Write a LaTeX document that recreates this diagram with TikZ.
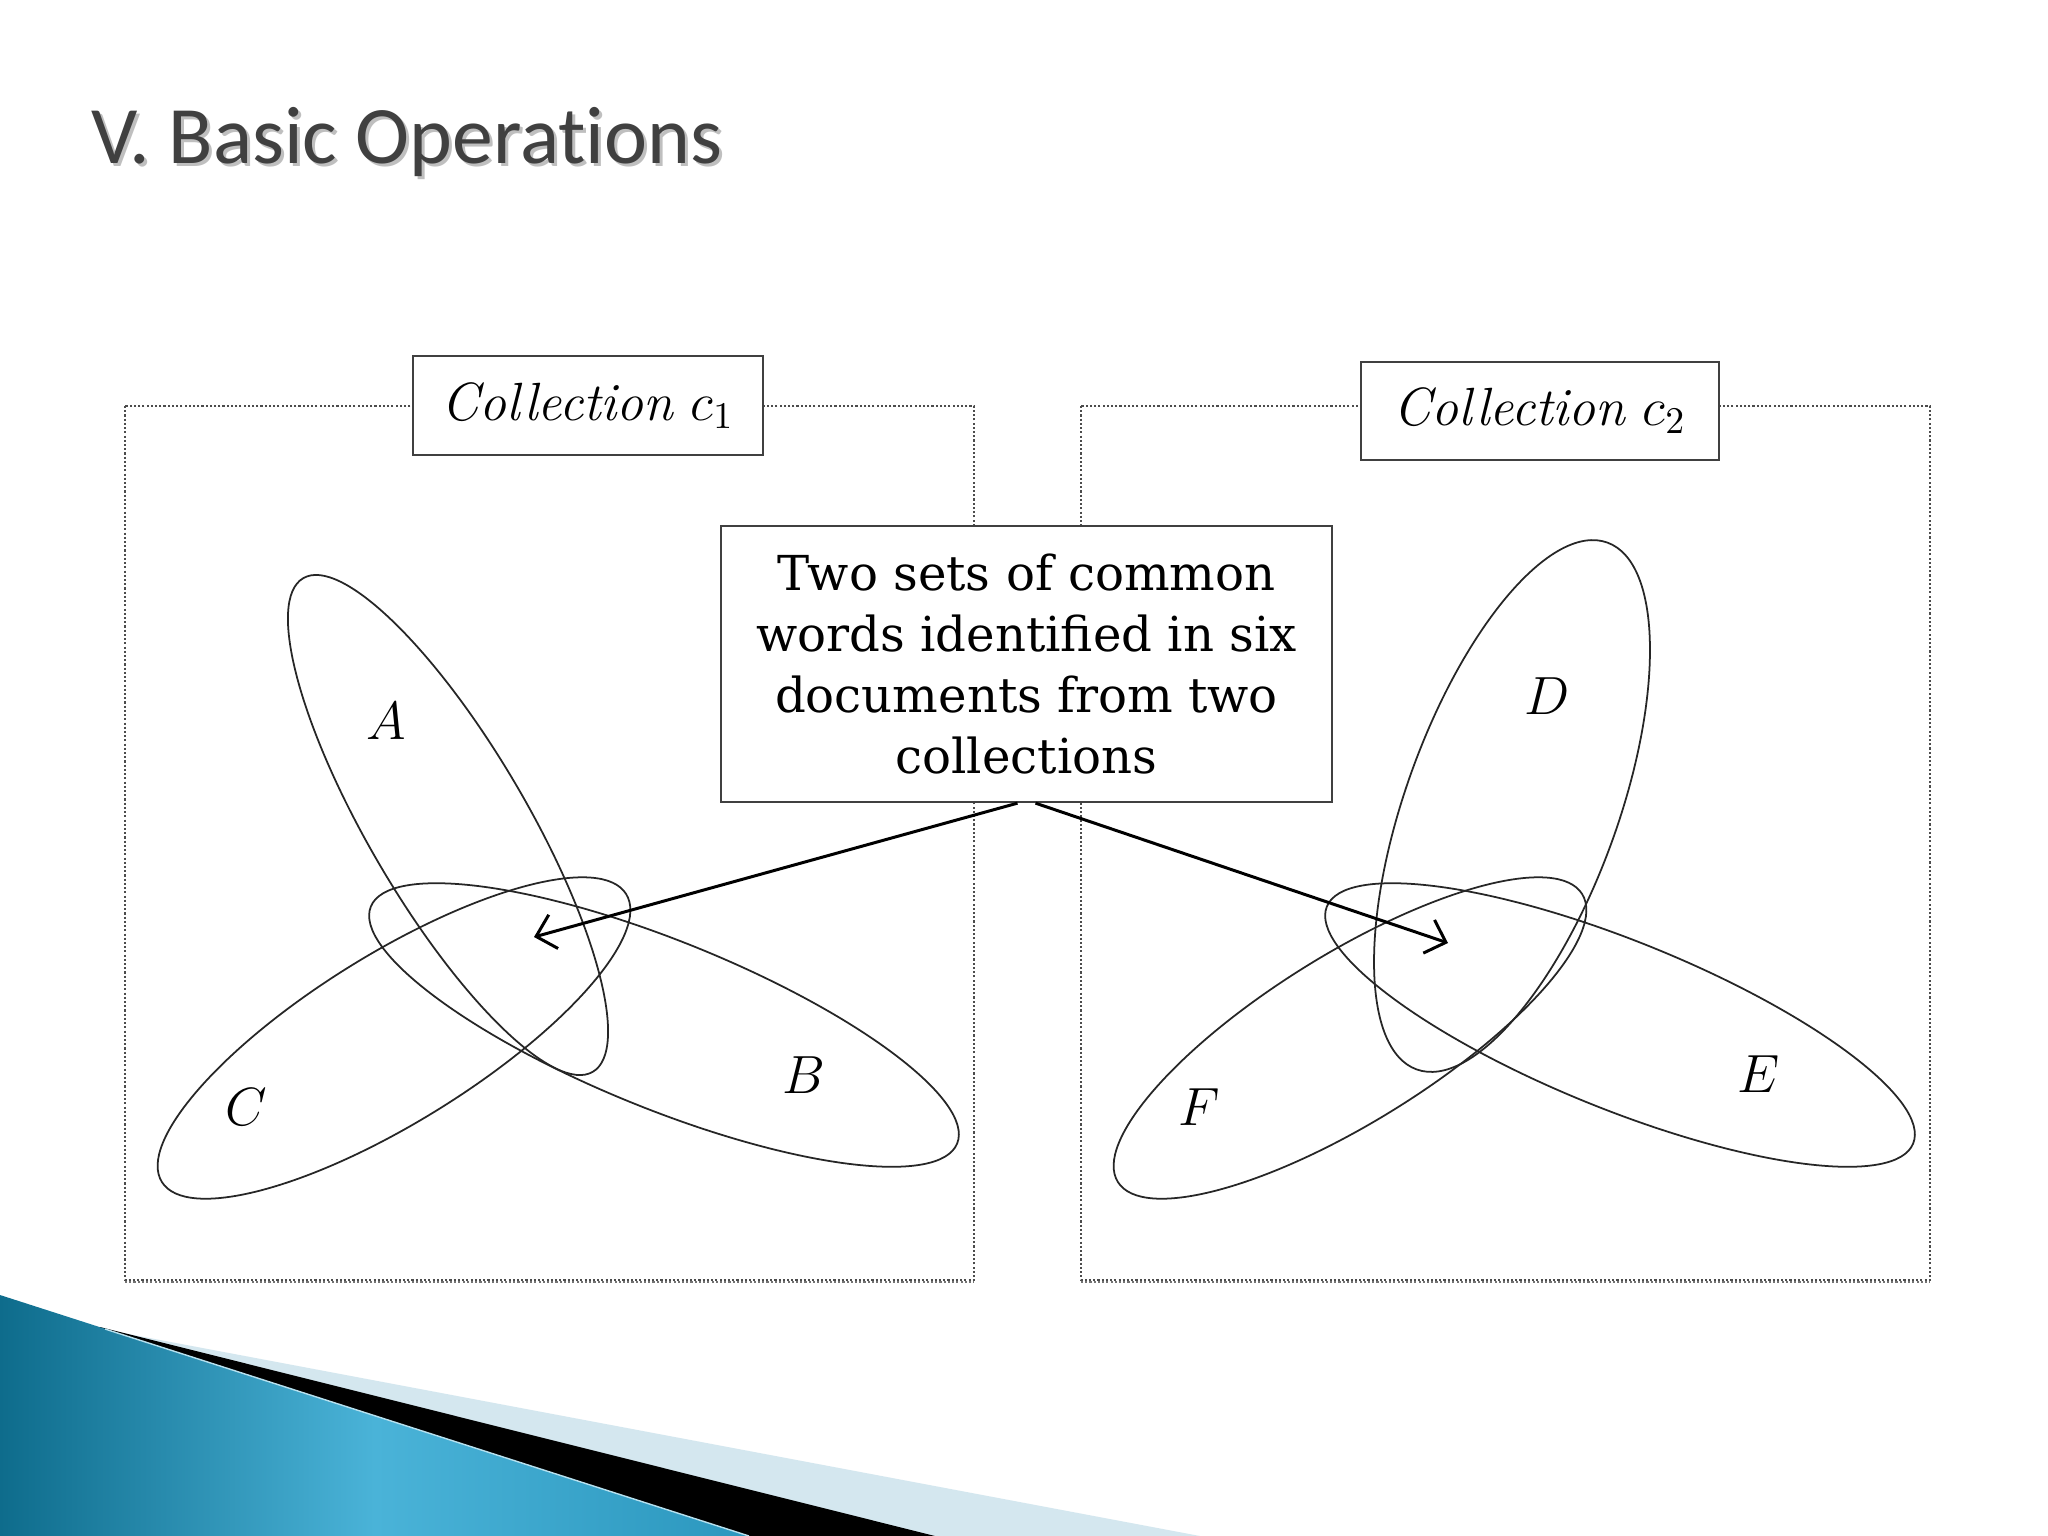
\RequirePackage{fix-cm}
\documentclass[tikz,border=0pt]{standalone}
\usepackage{fontspec}
\newfontfamily\titlefont{Carlito}[Ligatures=NoCommon]
\newfontfamily\msgfont{DejaVu Serif}
\usetikzlibrary{arrows.meta,calc}
\definecolor{titlegray}{HTML}{404040}
\definecolor{bluedark}{HTML}{0E6C8C}
\definecolor{bluemid}{HTML}{4AB3D8}
\definecolor{blueedge}{HTML}{2B97BE}
\definecolor{lightband}{HTML}{D4E7EF}
\begin{document}
\begin{tikzpicture}[x=0.01cm,y=-0.01cm,
  setline/.style={draw=black!85, line width=0.5pt},
  frame/.style={draw=black!70, line width=0.4pt, dash pattern=on 0.6pt off 0.6pt},
  labelbox/.style={draw=black!75, line width=0.6pt, fill=white, inner sep=0pt, font=\fontsize{15.3}{17.4}\selectfont},
  setlabel/.style={font=\fontsize{15.3}{17.4}\selectfont, inner sep=0pt},
  titletext/.style={anchor=base west, inner sep=0pt, font=\titlefont\fontsize{23.2}{27}\selectfont},
  pointer/.style={draw=black, line width=0.85pt, -{Straight Barb[length=1.8mm,width=3.5mm]}}]
\useasboundingbox (0,0) rectangle (2048,1536);
\fill[white] (0,0) rectangle (2048,1536);

% bottom-left decoration
\fill[lightband] (107,1330) -- (1200,1536) -- (0,1536) -- cycle;
\fill[black] (100,1327) -- (935,1536) -- (0,1536) -- cycle;
\shade[left color=bluedark, right color=blueedge, middle color=bluemid] (0,1295) -- (749,1536) -- (0,1536) -- cycle;
\draw[white!60!bluemid, line width=0.4pt] (105,1329) -- (749,1536);

% title
\node[titletext, text=black!25] (titleshadow) at (94,166) {V. Basic Operations};
\node[titletext, text=titlegray] (title) at (91,163) {V. Basic Operations};

% frames
\draw[frame] (125,406) rectangle (974,1280);
\draw[frame] (1081,406) rectangle (1930,1280);
\draw[frame, draw=black!55] (125,1282) -- (974,1282);
\draw[frame, draw=black!55] (1081,1282) -- (1930,1282);

% collection labels
\node[labelbox, minimum width=3.49cm, minimum height=0.99cm] (col1) at (588,405.5) {\textit{Collection} $c_1$};
\node[labelbox, minimum width=3.58cm, minimum height=0.98cm] (col2) at (1540,411) {\textit{Collection} $c_2$};

% sets of collection 1
\draw[setline, rotate around={-59.6:(448,825)}] (448,825) ellipse [x radius=2.86cm, y radius=0.79cm];
\draw[setline, rotate around={-22:(664,1025)}] (664,1025) ellipse [x radius=3.16cm, y radius=0.84cm];
\draw[setline, rotate around={31.8:(394,1038)}] (394,1038) ellipse [x radius=2.73cm, y radius=0.84cm];
% sets of collection 2
\draw[setline, rotate around={70.1:(1512,806)}] (1512,806) ellipse [x radius=2.80cm, y radius=1.06cm];
\draw[setline, rotate around={-22:(1620,1025)}] (1620,1025) ellipse [x radius=3.16cm, y radius=0.84cm];
\draw[setline, rotate around={31.8:(1350,1038)}] (1350,1038) ellipse [x radius=2.73cm, y radius=0.84cm];

% set labels
\node[setlabel] (la) at (386,721) {$A$};
\node[setlabel] (lb) at (804,1075) {$B$};
\node[setlabel] (lc) at (246,1107) {$C$};
\node[setlabel] (ld) at (1547,696) {$D$};
\node[setlabel] (le) at (1759,1074) {$E$};
\node[setlabel] (lf) at (1199,1107) {$F$};

% message box
\node[labelbox, minimum width=6.11cm, minimum height=2.76cm, align=center,
      font=\msgfont\fontsize{13.7}{17.36}\selectfont] (msg) at (1026.5,664)
  {Two sets of common\\words identified in six\\documents from two\\collections};

\coordinate (tipL) at (534,937);
\coordinate (tipR) at (1448,943);
\draw[pointer] ([xshift=-0.09cm]msg.south) -- (tipL);
\draw[pointer] ([xshift=0.09cm]msg.south) -- (tipR);
\end{tikzpicture}
\end{document}
